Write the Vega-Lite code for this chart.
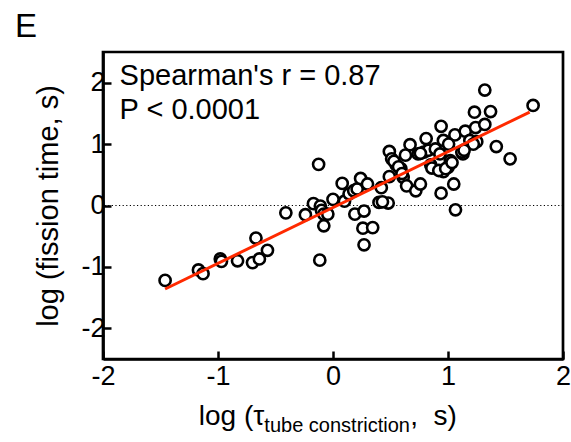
{
  "$schema": "https://vega.github.io/schema/vega-lite/v6.json",
  "width": 460,
  "height": 307,
  "autosize": "none",
  "padding": {"left": 103, "top": 52, "right": 8, "bottom": 83},
  "background": "white",
  "config": {
    "font": "Liberation Sans",
    "view": {"stroke": "black", "strokeWidth": 2.7},
    "axis": {
      "grid": false,
      "domainColor": "black",
      "domainWidth": 2.7,
      "tickColor": "black",
      "tickWidth": 2.5,
      "tickSize": -8,
      "labelFontSize": 27,
      "labelColor": "black",
      "labelFlush": false,
      "labelOverlap": false,
      "labelExpr": "'' + datum.value",
      "titleFontSize": 29,
      "titleFontWeight": "normal",
      "titleColor": "black"
    }
  },
  "title": {"text": "E", "anchor": "start", "frame": "group", "dx": -88, "offset": 8, "fontSize": 33, "fontWeight": "normal", "color": "black"},
  "datasets": {
    "points": [
      {"tau": -1.46, "fission": -1.22},
      {"tau": -1.17, "fission": -1.05},
      {"tau": -1.13, "fission": -1.11},
      {"tau": -0.98, "fission": -0.87},
      {"tau": -0.97, "fission": -0.91},
      {"tau": -0.83, "fission": -0.9},
      {"tau": -0.7, "fission": -0.93},
      {"tau": -0.67, "fission": -0.53},
      {"tau": -0.64, "fission": -0.87},
      {"tau": -0.57, "fission": -0.73},
      {"tau": -0.41, "fission": -0.12},
      {"tau": -0.24, "fission": -0.15},
      {"tau": -0.17, "fission": 0.03},
      {"tau": -0.125, "fission": 0.67},
      {"tau": -0.11, "fission": -0.01},
      {"tau": -0.1, "fission": -0.08},
      {"tau": -0.08, "fission": -0.14},
      {"tau": -0.045, "fission": -0.14},
      {"tau": -0.08, "fission": -0.33},
      {"tau": -0.115, "fission": -0.89},
      {"tau": 0.0, "fission": 0.1},
      {"tau": 0.08, "fission": 0.36},
      {"tau": 0.1, "fission": 0.07},
      {"tau": 0.14, "fission": 0.19},
      {"tau": 0.18, "fission": 0.24},
      {"tau": 0.21, "fission": 0.27},
      {"tau": 0.24, "fission": 0.44},
      {"tau": 0.3, "fission": 0.35},
      {"tau": 0.19, "fission": -0.14},
      {"tau": 0.27, "fission": -0.09},
      {"tau": 0.26, "fission": -0.37},
      {"tau": 0.345, "fission": -0.36},
      {"tau": 0.27, "fission": -0.64},
      {"tau": 0.4, "fission": 0.05},
      {"tau": 0.48, "fission": 0.04},
      {"tau": 0.42, "fission": 0.29},
      {"tau": 0.49, "fission": 0.47},
      {"tau": 0.49, "fission": 0.88},
      {"tau": 0.51, "fission": 0.76},
      {"tau": 0.55, "fission": 0.66},
      {"tau": 0.59, "fission": 0.6},
      {"tau": 0.61, "fission": 0.46},
      {"tau": 0.64, "fission": 0.32},
      {"tau": 0.63, "fission": 0.82},
      {"tau": 0.67, "fission": 0.99},
      {"tau": 0.72, "fission": 0.24},
      {"tau": 0.76, "fission": 0.35},
      {"tau": 0.74, "fission": 0.84},
      {"tau": 0.79, "fission": 0.87},
      {"tau": 0.81, "fission": 1.09},
      {"tau": 0.83, "fission": 0.9},
      {"tau": 0.85, "fission": 0.66},
      {"tau": 0.86, "fission": 0.61},
      {"tau": 0.89, "fission": 0.92},
      {"tau": 0.94, "fission": 1.29},
      {"tau": 0.96, "fission": 1.06},
      {"tau": 0.93, "fission": 0.84},
      {"tau": 0.96, "fission": 0.55},
      {"tau": 0.94, "fission": 0.2},
      {"tau": 1.0, "fission": 0.62},
      {"tau": 1.02, "fission": 0.73},
      {"tau": 1.05, "fission": 0.35},
      {"tau": 1.065, "fission": -0.07},
      {"tau": 1.06, "fission": 1.15},
      {"tau": 1.13, "fission": 0.84},
      {"tau": 1.15, "fission": 1.21},
      {"tau": 1.19, "fission": 1.06},
      {"tau": 1.24, "fission": 1.27},
      {"tau": 1.25, "fission": 1.04},
      {"tau": 1.23, "fission": 1.52},
      {"tau": 1.32, "fission": 1.88},
      {"tau": 1.32, "fission": 1.32},
      {"tau": 1.37, "fission": 1.53},
      {"tau": 1.42, "fission": 0.96},
      {"tau": 1.54, "fission": 0.76},
      {"tau": 1.74, "fission": 1.63},
      {"tau": 0.53, "fission": 0.72},
      {"tau": 0.57, "fission": 0.63},
      {"tau": 0.6, "fission": 0.52},
      {"tau": 0.92, "fission": 0.57},
      {"tau": 0.98, "fission": 0.6},
      {"tau": 1.035, "fission": 0.7},
      {"tau": 1.005, "fission": 1.0},
      {"tau": 0.76, "fission": 0.85},
      {"tau": 1.12, "fission": 0.87},
      {"tau": 1.22, "fission": 1.0},
      {"tau": 1.14, "fission": 0.9},
      {"tau": 0.43, "fission": 0.06}
    ],
    "fit": [
      {"tau": -1.46, "fission": -1.36},
      {"tau": 1.71, "fission": 1.52}
    ]
  },
  "layer": [
    {
      "data": {"values": [{}]},
      "mark": {"type": "rule", "color": "black", "strokeWidth": 1, "strokeDash": [1.2, 2.4]},
      "encoding": {
        "y": {"datum": 0, "type": "quantitative", "scale": {"domain": [-2.5, 2.5]}, "axis": {"values": [-2, -1, 0, 1, 2], "title": "log (fission time, s)", "labelPadding": 6, "titlePadding": 17}}
      }
    },
    {
      "data": {"name": "points"},
      "mark": {"type": "circle", "fill": "white", "stroke": "black", "strokeWidth": 2.6, "size": 125, "opacity": 1, "fillOpacity": 1},
      "encoding": {
        "x": {"field": "tau", "type": "quantitative", "scale": {"domain": [-2, 2]}, "axis": {"values": [-2, -1, 0, 1, 2], "title": null, "labelPadding": 12}},
        "y": {"field": "fission", "type": "quantitative", "scale": {"domain": [-2.5, 2.5]}, "axis": {"values": [-2, -1, 0, 1, 2], "title": "log (fission time, s)", "labelPadding": 6, "titlePadding": 17}}
      }
    },
    {
      "data": {"name": "fit"},
      "mark": {"type": "line", "color": "#ff2a00", "strokeWidth": 3},
      "encoding": {
        "x": {"field": "tau", "type": "quantitative"},
        "y": {"field": "fission", "type": "quantitative"}
      }
    },
    {
      "data": {"values": [{"label": "Spearman's r = 0.87"}]},
      "mark": {"type": "text", "align": "left", "baseline": "alphabetic", "fontSize": 29, "color": "black"},
      "encoding": {
        "x": {"datum": -1.856, "type": "quantitative"},
        "y": {"datum": 1.958, "type": "quantitative"},
        "text": {"field": "label"}
      }
    },
    {
      "data": {"values": [{"label": "P < 0.0001"}]},
      "mark": {"type": "text", "align": "left", "baseline": "alphabetic", "fontSize": 29, "color": "black"},
      "encoding": {
        "x": {"datum": -1.856, "type": "quantitative"},
        "y": {"datum": 1.414, "type": "quantitative"},
        "text": {"field": "label"}
      }
    },
    {
      "data": {"values": [{"label": "log (τ"}]},
      "mark": {"type": "text", "align": "right", "baseline": "alphabetic", "fontSize": 28, "color": "black"},
      "encoding": {
        "x": {"datum": -0.597, "type": "quantitative"},
        "y": {"datum": -3.573, "type": "quantitative"},
        "text": {"field": "label"}
      }
    },
    {
      "data": {"values": [{"label": "tube constriction"}]},
      "mark": {"type": "text", "align": "left", "baseline": "alphabetic", "fontSize": 20, "color": "black"},
      "encoding": {
        "x": {"datum": -0.597, "type": "quantitative"},
        "y": {"datum": -3.687, "type": "quantitative"},
        "text": {"field": "label"}
      }
    },
    {
      "data": {"values": [{"label": ",\u00a0 s)"}]},
      "mark": {"type": "text", "align": "left", "baseline": "alphabetic", "fontSize": 28, "color": "black"},
      "encoding": {
        "x": {"datum": 0.672, "type": "quantitative"},
        "y": {"datum": -3.573, "type": "quantitative"},
        "text": {"field": "label"}
      }
    }
  ]
}
